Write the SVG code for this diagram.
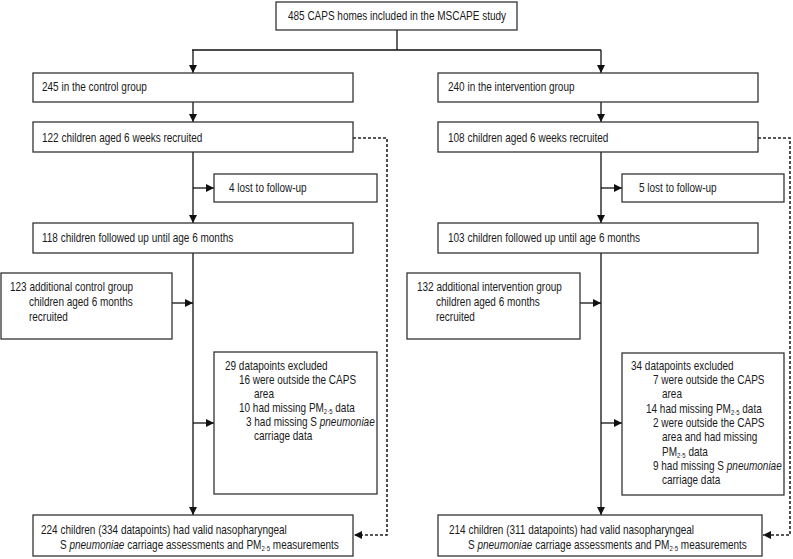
<svg xmlns="http://www.w3.org/2000/svg" width="793" height="559" viewBox="0 0 793 559">
<style>
.box{fill:#fff;stroke:#333;stroke-width:1.3}
text{font-family:"Liberation Sans",Arial,sans-serif;font-size:12.5px;fill:#1a1a1a}
.ln{stroke:#111;stroke-width:1.3;fill:none}
.dash{stroke:#222;stroke-width:1.6;fill:none;stroke-dasharray:3,2}
.sub{font-size:7.5px}
</style>
<defs>
<marker id="ah" viewBox="0 0 10 10" refX="10" refY="5" markerWidth="8" markerHeight="8" markerUnits="userSpaceOnUse" orient="auto">
<path d="M0,0 L10,5 L0,10 z" fill="#111"/>
</marker>
</defs>
<g id="connectors">
<path class="ln" d="M397,30 V50 M192,50 H601"/>
<path class="ln" d="M193,50 V73" marker-end="url(#ah)"/>
<path class="ln" d="M601,50 V73" marker-end="url(#ah)"/>
<path class="ln" d="M193,102 V122" marker-end="url(#ah)"/>
<path class="ln" d="M601,102 V122" marker-end="url(#ah)"/>
<path class="ln" d="M193,152 V223" marker-end="url(#ah)"/>
<path class="ln" d="M601,152 V223" marker-end="url(#ah)"/>
<path class="ln" d="M193,188 H214" marker-end="url(#ah)"/>
<path class="ln" d="M601,188 H622" marker-end="url(#ah)"/>
<path class="ln" d="M193,253 V515" marker-end="url(#ah)"/>
<path class="ln" d="M601,253 V515" marker-end="url(#ah)"/>
<path class="ln" d="M172,303 H193" marker-end="url(#ah)"/>
<path class="ln" d="M580,303 H601" marker-end="url(#ah)"/>
<path class="ln" d="M193,423 H214" marker-end="url(#ah)"/>
<path class="ln" d="M601,423 H622" marker-end="url(#ah)"/>
<path class="dash" d="M353,138 H387 V535 H354" marker-end="url(#ah)"/>
<path class="dash" d="M758,138 H790 V535 H763" marker-end="url(#ah)"/>
</g>
<g id="n-top">
<rect class="box" x="276" y="2" width="241" height="28"/>
<g transform="scale(0.8,1)"><text x="496.25" y="20" text-anchor="middle">485 CAPS homes included in the  MSCAPE study</text></g>
</g>
<g id="n-control">
<rect class="box" x="33" y="73" width="320" height="29"/>
<g transform="scale(0.8,1)"><text x="52.5" y="91">245 in the control group</text></g>
</g>
<g id="n-intervention">
<rect class="box" x="438" y="73" width="320" height="29"/>
<g transform="scale(0.8,1)"><text x="560" y="91">240 in the intervention group</text></g>
</g>
<g id="n-c6w">
<rect class="box" x="33" y="122" width="320" height="30"/>
<g transform="scale(0.8,1)"><text x="52.5" y="142">122 children aged 6 weeks recruited</text></g>
</g>
<g id="n-i6w">
<rect class="box" x="438" y="122" width="320" height="30"/>
<g transform="scale(0.8,1)"><text x="560" y="142">108 children aged 6 weeks recruited</text></g>
</g>
<g id="n-clost">
<rect class="box" x="214" y="174" width="163" height="28"/>
<g transform="scale(0.8,1)"><text x="286.25" y="192">4 lost to follow-up</text></g>
</g>
<g id="n-ilost">
<rect class="box" x="622" y="174" width="162" height="28"/>
<g transform="scale(0.8,1)"><text x="798.75" y="192">5 lost to follow-up</text></g>
</g>
<g id="n-c6m">
<rect class="box" x="33" y="223" width="320" height="30"/>
<g transform="scale(0.8,1)"><text x="52.5" y="242">118 children followed up until age 6 months</text></g>
</g>
<g id="n-i6m">
<rect class="box" x="438" y="223" width="320" height="30"/>
<g transform="scale(0.8,1)"><text x="560" y="242">103 children followed up until age 6 months</text></g>
</g>
<g id="n-cadd">
<rect class="box" x="1" y="273" width="171" height="66"/>
<g transform="scale(0.8,1)">
<text x="12.5" y="291">123 additional control group</text>
<text x="36.25" y="306">children aged 6 months</text>
<text x="36.25" y="321">recruited</text>
</g>
</g>
<g id="n-iadd">
<rect class="box" x="407" y="273" width="173" height="66"/>
<g transform="scale(0.8,1)">
<text x="521.25" y="291">132 additional intervention group</text>
<text x="545" y="306">children aged 6 months</text>
<text x="545" y="321">recruited</text>
</g>
</g>
<g id="n-cexcl">
<rect class="box" x="214" y="352" width="163" height="142"/>
<g transform="scale(0.8,1)">
<text x="281.25" y="370">29 datapoints excluded</text>
<text x="298.75" y="384">16 were outside the CAPS</text>
<text x="317.5" y="398">area</text>
<text x="298.75" y="412">10 had missing PM<tspan class="sub" dy="2">2·5</tspan><tspan dy="-2"> data</tspan></text>
<text x="307.5" y="426">3 had missing S <tspan font-style="italic">pneumoniae</tspan></text>
<text x="317.5" y="440">carriage data</text>
</g>
</g>
<g id="n-iexcl">
<rect class="box" x="622" y="353" width="162" height="142"/>
<g transform="scale(0.8,1)">
<text x="788.75" y="370">34 datapoints excluded</text>
<text x="816.25" y="384">7 were outside the CAPS</text>
<text x="827.5" y="398">area</text>
<text x="807.5" y="413">14 had missing PM<tspan class="sub" dy="2">2·5</tspan><tspan dy="-2"> data</tspan></text>
<text x="816.25" y="427">2 were outside the CAPS</text>
<text x="827.5" y="441">area and had missing</text>
<text x="827.5" y="456">PM<tspan class="sub" dy="2">2·5</tspan><tspan dy="-2"> data</tspan></text>
<text x="816.25" y="470">9 had missing S <tspan font-style="italic">pneumoniae</tspan></text>
<text x="827.5" y="484">carriage data</text>
</g>
</g>
<g id="n-cfinal">
<rect class="box" x="33" y="515" width="320" height="41"/>
<g transform="scale(0.8,1)">
<text x="51.25" y="534">224 children (334 datapoints) had valid nasopharyngeal</text>
<text x="75" y="549">S <tspan font-style="italic">pneumoniae</tspan> carriage assessments and PM<tspan class="sub" dy="2">2·5</tspan><tspan dy="-2"> measurements</tspan></text>
</g>
</g>
<g id="n-ifinal">
<rect class="box" x="438" y="515" width="324" height="41"/>
<g transform="scale(0.8,1)">
<text x="561.25" y="534">214 children (311 datapoints) had valid nasopharyngeal</text>
<text x="585" y="549">S <tspan font-style="italic">pneumoniae</tspan> carriage assessments and PM<tspan class="sub" dy="2">2·5</tspan><tspan dy="-2"> measurements</tspan></text>
</g>
</g>
</svg>
